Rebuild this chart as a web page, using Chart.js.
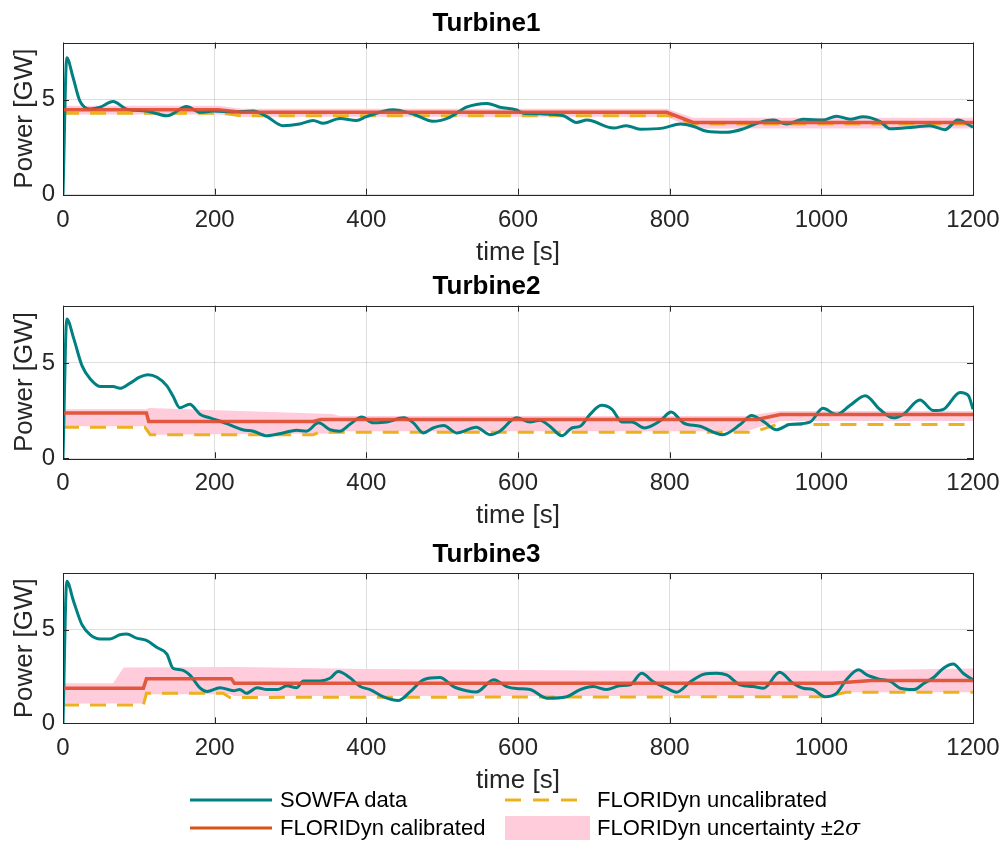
<!DOCTYPE html>
<html>
<head>
<meta charset="utf-8">
<script src="https://cdn.jsdelivr.net/npm/chart.js@4.4.1/dist/chart.umd.min.js"></script>
<style>
body{margin:0;background:#fff;width:1006px;height:843px;position:relative;overflow:hidden;font-family:"Liberation Sans",Arial,sans-serif;}
canvas{position:absolute;left:0;}
.lg{position:absolute;font-size:22px;color:#000;line-height:26px;white-space:nowrap;}
svg{position:absolute;}
</style>
</head>
<body>
<canvas id="t1" width="1006" height="272" style="top:0px"></canvas>
<canvas id="t2" width="1006" height="272" style="top:263px"></canvas>
<canvas id="t3" width="1006" height="272" style="top:531px"></canvas>

<svg style="left:185px;top:790px" width="420" height="52">
  <line x1="5" y1="10" x2="87" y2="10" stroke="#008080" stroke-width="3"/>
  <line x1="5" y1="38" x2="87" y2="38" stroke="#d95319" stroke-width="3"/>
  <line x1="320" y1="10" x2="402" y2="10" stroke="#edb120" stroke-width="3" stroke-dasharray="16,12"/>
  <rect x="320" y="26" width="85" height="24" fill="#ffccdb"/>
</svg>
<div class="lg" style="left:280px;top:787px">SOWFA data</div>
<div class="lg" style="left:280px;top:815px">FLORIDyn calibrated</div>
<div class="lg" style="left:597px;top:787px">FLORIDyn uncalibrated</div>
<div class="lg" style="left:597px;top:815px">FLORIDyn uncertainty ±2<i style="font-family:'DejaVu Serif',serif">σ</i></div>

<script>
// time [s] , power [GW]
const sowfa1 = [[0,0],[5,7.2],[13,6.2],[22,4.95],[36,4.5],[49,4.6],[66,4.9],[84,4.5],[110,4.4],[137,4.15],[163,4.63],[181,4.33],[198,4.4],[224,4.35],[251,4.4],[269,4.1],[290,3.63],[312,3.72],[330,3.9],[343,3.75],[365,4.0],[387,3.9],[400,4.1],[435,4.47],[461,4.25],[488,3.86],[510,4.07],[532,4.6],[559,4.8],[576,4.6],[598,4.45],[607,4.28],[630,4.25],[660,4.15],[677,3.8],[691,3.92],[726,3.5],[743,3.63],[761,3.44],[791,3.5],[814,3.72],[831,3.6],[849,3.33],[875,3.28],[897,3.46],[919,3.8],[937,3.92],[954,3.72],[976,3.97],[1002,3.92],[1020,4.13],[1038,3.97],[1055,4.1],[1077,3.86],[1091,3.46],[1121,3.55],[1143,3.63],[1163,3.42],[1180,3.92],[1200,3.55]];
const cal1 = [[0,4.47],[205,4.47],[235,4.33],[796,4.33],[831,3.8],[1200,3.8]];
const uncal1 = [[0,4.28],[210,4.28],[235,4.15],[800,4.15],[831,3.72],[1200,3.72]];
const bandHi1 = [[0,4.68],[205,4.68],[235,4.52],[796,4.52],[831,4.05],[1200,4.05]];
const bandLo1 = [[0,4.21],[205,4.21],[235,4.1],[796,4.1],[831,3.48],[1200,3.48]];

const sowfa2 = [[0,0],[5,7.3],[14,6.3],[25,4.86],[36,4.16],[49,3.77],[66,3.76],[75,3.67],[88,3.93],[101,4.25],[112,4.38],[124,4.25],[137,3.8],[145,3.27],[154,2.65],[167,2.83],[181,2.3],[194,2.12],[216,1.82],[237,1.5],[251,1.42],[269,1.18],[290,1.33],[308,1.47],[321,1.42],[337,1.86],[352,1.5],[365,1.42],[378,1.77],[394,2.16],[409,1.86],[427,1.9],[449,2.12],[462,1.86],[475,1.33],[488,1.59],[502,1.72],[519,1.33],[545,1.63],[563,1.24],[576,1.42],[598,2.12],[616,1.9],[629,2.0],[642,1.68],[658,1.18],[671,1.59],[682,1.68],[695,2.3],[710,2.78],[724,2.57],[737,1.9],[750,1.9],[767,1.59],[787,1.95],[802,2.43],[818,1.86],[840,1.68],[870,1.24],[893,1.77],[908,2.25],[923,1.95],[941,1.5],[958,1.77],[985,1.9],[1002,2.62],[1020,2.3],[1038,2.78],[1058,3.28],[1077,2.57],[1095,2.12],[1108,2.3],[1130,3.05],[1148,2.5],[1161,2.57],[1183,3.45],[1194,3.28],[1200,2.57]];
const cal2 = [[0,2.38],[110,2.38],[113,1.93],[330,1.93],[340,2.03],[915,2.03],[946,2.3],[1200,2.3]];
const uncal2 = [[0,1.63],[108,1.63],[115,1.24],[330,1.24],[338,1.36],[910,1.36],[941,1.77],[1200,1.77]];
const bandHi2 = [[0,2.57],[110,2.57],[113,2.64],[355,2.32],[365,2.22],[900,2.22],[946,2.48],[1200,2.48]];
const bandLo2 = [[0,1.68],[110,1.68],[113,1.24],[355,1.3],[365,1.42],[900,1.42],[946,1.95],[1200,1.95]];

const sowfa3 = [[0,0],[5,7.57],[14,6.5],[25,5.26],[36,4.72],[49,4.5],[62,4.5],[75,4.72],[84,4.76],[97,4.54],[110,4.42],[124,4.04],[137,3.69],[145,2.94],[156,2.85],[167,2.58],[181,1.87],[190,1.69],[207,1.9],[225,1.74],[233,1.8],[242,1.6],[256,1.9],[269,1.8],[283,1.8],[295,2.0],[308,1.9],[317,2.26],[339,2.26],[352,2.4],[363,2.76],[378,2.44],[392,1.96],[405,1.8],[422,1.42],[442,1.21],[458,1.69],[475,2.32],[497,2.44],[515,1.96],[532,1.74],[545,1.67],[568,2.32],[585,1.96],[598,1.85],[616,1.8],[638,1.34],[664,1.42],[682,1.8],[699,1.96],[717,1.8],[734,2.0],[748,2.05],[763,2.67],[778,2.23],[796,1.87],[809,1.66],[827,2.2],[845,2.62],[862,2.67],[875,2.58],[893,2.05],[910,1.96],[924,1.87],[945,2.72],[963,2.12],[976,1.87],[989,1.8],[1005,1.42],[1020,1.6],[1033,2.32],[1049,2.85],[1060,2.58],[1075,2.37],[1091,2.23],[1104,1.87],[1122,1.8],[1135,2.12],[1148,2.44],[1161,2.94],[1174,3.16],[1187,2.67],[1200,2.32]];
const cal3 = [[0,1.87],[106,1.87],[110,2.37],[222,2.37],[226,2.14],[1016,2.14],[1066,2.28],[1200,2.28]];
const uncal3 = [[0,0.98],[106,0.98],[110,1.6],[211,1.6],[220,1.38],[1006,1.42],[1033,1.66],[1200,1.66]];
const bandHi3 = [[0,2.14],[66,2.14],[80,2.97],[230,3.0],[400,2.9],[700,2.82],[1000,2.8],[1200,2.92]];
const bandLo3 = [[0,1.05],[106,1.05],[110,1.55],[220,1.55],[226,1.45],[1000,1.45],[1030,1.65],[1200,1.65]];

const xTicks = [0,200,400,600,800,1000,1200];
const yTicks = [0,5];

const TEAL = '#008080', RED = 'rgba(222,78,50,0.92)', ORANGE = '#edb120', PINK = '#ffccdb';
const GRID = 'rgba(0,0,0,0.13)', AX = '#262626';
Chart.defaults.font.family = '"Liberation Sans", Arial, sans-serif';

const xy = arr => arr.map(p => ({x:p[0], y:p[1]}));

const boxPlugin = {
  id:'box',
  afterDraw(chart){
    const {ctx, chartArea:a, scales} = chart;
    ctx.save();
    ctx.strokeStyle = AX; ctx.lineWidth = 1;
    ctx.strokeRect(Math.round(a.left)+0.5, Math.round(a.top)+0.5, Math.round(a.right-a.left), Math.round(a.bottom-a.top));
    ctx.beginPath();
    xTicks.forEach(v => {
      const x = Math.round(scales.x.getPixelForValue(v))+0.5;
      ctx.moveTo(x,a.bottom); ctx.lineTo(x,a.bottom-6);
      ctx.moveTo(x,a.top); ctx.lineTo(x,a.top+6);
    });
    yTicks.forEach(v => {
      const y = Math.round(scales.y.getPixelForValue(v))+0.5;
      ctx.moveTo(a.left,y); ctx.lineTo(a.left+6,y);
      ctx.moveTo(a.right,y); ctx.lineTo(a.right-6,y);
    });
    ctx.stroke();
    ctx.restore();
  }
};

function panel(id, title, plotTop, plotBottom, sowfa, cal, uncal, hi, lo){
  const H = 272;
  new Chart(document.getElementById(id), {
    type:'line',
    data:{datasets:[
      {label:'hi', data:xy(hi), fill:'+1', backgroundColor:PINK, borderWidth:0, pointRadius:0, order:5},
      {label:'lo', data:xy(lo), fill:false, borderWidth:0, pointRadius:0, order:5},
      {label:'FLORIDyn uncalibrated', data:xy(uncal), borderColor:ORANGE, borderWidth:3, borderDash:[16,11], pointRadius:0, fill:false, order:3},
      {label:'SOWFA data', data:xy(sowfa), borderColor:TEAL, borderWidth:3, pointRadius:0, fill:false, cubicInterpolationMode:'monotone', order:2},
      {label:'FLORIDyn calibrated', data:xy(cal), borderColor:RED, borderWidth:3.5, pointRadius:0, fill:false, order:1}
    ]},
    options:{
      responsive:false, animation:false, devicePixelRatio:1,
      layout:{padding:{left:0,right:33,top:0,bottom:0}},
      plugins:{
        legend:{display:false}, tooltip:{enabled:false},
        title:{display:true, text:title, color:'#000', font:{size:26, weight:'bold'}, padding:{top:8, bottom:plotTop-8-31.2}}
      },
      scales:{
        x:{type:'linear', min:0, max:1200,
          afterBuildTicks(s){ s.ticks = xTicks.map(v => ({value:v})); },
          ticks:{font:{size:24}, color:AX, padding:11, maxRotation:0, callback:v => String(v)},
          grid:{color:GRID, drawTicks:false}, border:{display:false},
          // title centre sits about 58px under the plot bottom
          title:{display:true, text:'time [s]', color:AX, font:{size:26}, padding:{top:0,bottom:H-plotBottom-58-15.6}},
          afterFit(s){ s.height = H - plotBottom; s.paddingLeft = 0; s.paddingRight = 0; }},
        y:{min:0, max:8,
          afterBuildTicks(s){ s.ticks = yTicks.map(v => ({value:v})); },
          ticks:{font:{size:24}, color:AX, padding:8},
          grid:{color:GRID, drawTicks:false}, border:{display:false},
          title:{display:true, text:'Power [GW]', color:AX, font:{size:26}, padding:{top:9,bottom:0}},
          afterFit(s){ s.width = 63; s.paddingTop = 0; s.paddingBottom = 0; }}
      }
    },
    plugins:[boxPlugin]
  });
}

panel('t1','Turbine1',42.5,194.7,sowfa1,cal1,uncal1,bandHi1,bandLo1);
panel('t2','Turbine2',42.7,195.3,sowfa2,cal2,uncal2,bandHi2,bandLo2);
panel('t3','Turbine3',42.3,192.3,sowfa3,cal3,uncal3,bandHi3,bandLo3);
</script>
</body>
</html>
